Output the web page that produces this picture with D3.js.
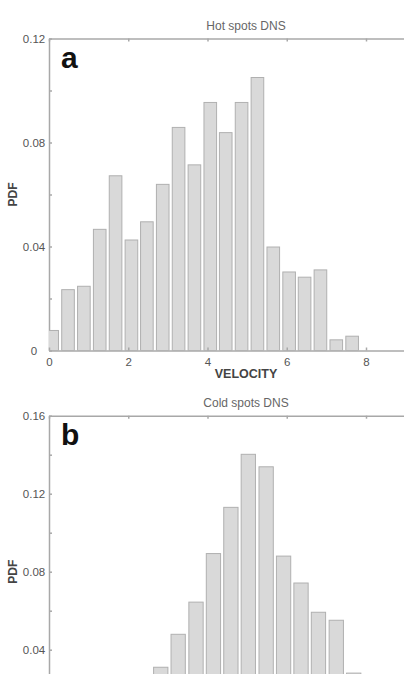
<!DOCTYPE html>
<html>
<head>
<meta charset="utf-8">
<script src="https://cdn.jsdelivr.net/npm/d3@7"></script>
<style>
  html, body { margin: 0; padding: 0; background: #fff; overflow: hidden; }
  svg { display: block; font-family: "Liberation Sans", Arial, sans-serif; }
  .axis path, .axis line { stroke: #a8a8a8; stroke-width: 1.5; }
  .axis text { fill: #555; font-size: 11.5px; }
</style>
</head>
<body>
<div id="chart"></div>
<script>
// panel a : hot spots
var hotVelocity = [0.08, 0.48, 0.88, 1.28, 1.68, 2.08, 2.47, 2.87, 3.27, 3.67,
                   4.07, 4.46, 4.86, 5.26, 5.66, 6.06, 6.45, 6.85, 7.25, 7.65];
var hotPdf = [0.0077, 0.0234, 0.0247, 0.0466, 0.0672, 0.0425, 0.0495, 0.0639, 0.0858, 0.0714,
              0.0954, 0.0838, 0.0954, 0.1050, 0.0398, 0.0302, 0.0282, 0.0310, 0.0041, 0.0055];

// panel b : cold spots (lower bins fall below the visible area)
var coldVelocity = [2.82, 3.26, 3.71, 4.15, 4.59, 5.03, 5.48, 5.92, 6.36, 6.80, 7.25, 7.69];
var coldPdf = [0.031, 0.0479, 0.0644, 0.0893, 0.113, 0.1402, 0.1338, 0.088, 0.0742, 0.0592, 0.0551, 0.028];

var xTicks = [0, 2, 4, 6, 8];
var hotYTicks = [0, 0.02, 0.04, 0.06, 0.08, 0.10, 0.12];
var coldYTicks = [0, 0.02, 0.04, 0.06, 0.08, 0.10, 0.12, 0.14, 0.16];

var W = 404, H = 674;
var svg = d3.select('#chart').append('svg')
    .attr('width', W).attr('height', H);

function drawPanel(opts) {
  var left = 49, top = opts.top, h = 312;
  var x = d3.scaleLinear().domain([0, 9]).range([left, left + 9 * 39.625]);
  var y = d3.scaleLinear().domain([0, opts.ymax]).range([top + h, top]);
  var g = svg.append('g');
  var bottomVisible = top + h + 30 < H;   // panel b is cut by the frame

  var clipId = 'clip-' + opts.letter;
  g.append('clipPath').attr('id', clipId)
    .append('rect')
      .attr('x', x(0)).attr('y', top)
      .attr('width', x(9) - x(0)).attr('height', h);

  // top axis, ticks pointing inward
  g.append('g').attr('class', 'axis')
    .attr('transform', 'translate(0,' + top + ')')
    .call(d3.axisTop(x).tickValues(xTicks).tickSize(-3).tickSizeOuter(0).tickFormat(''));

  // left axis
  var yAxis = g.append('g').attr('class', 'axis')
    .attr('transform', 'translate(' + left + ',0)')
    .call(d3.axisLeft(y).tickValues(opts.yTicks).tickSize(-3).tickSizeOuter(0)
      .tickFormat(function (d, i) {
        if (i % 2) return '';
        if (y(d) > H - 6) return '';
        return d === 0 ? '0' : d.toFixed(2);
      }));
  yAxis.selectAll('text').attr('x', -15).attr('text-anchor', 'middle');

  // bars
  var bw = opts.binWidth * opts.fill;
  g.append('g').attr('clip-path', 'url(#' + clipId + ')')
    .selectAll('rect')
    .data(opts.pdf).enter()
    .append('rect')
      .attr('x', function (d, i) { return x(opts.velocity[i] - bw / 2); })
      .attr('width', x(bw) - x(0))
      .attr('y', function (d) { return y(d); })
      .attr('height', function (d) { return y(0) - y(d); })
      .attr('fill', '#d9d9d9')
      .attr('stroke', '#b0b0b0')
      .attr('stroke-width', 1);

  // bottom axis
  var xAxis = g.append('g').attr('class', 'axis')
    .attr('transform', 'translate(0,' + (top + h) + ')')
    .call(d3.axisBottom(x).tickValues(xTicks).tickSize(-3).tickSizeOuter(0)
      .tickFormat(bottomVisible ? null : ''));
  xAxis.selectAll('text').attr('y', 7);
  xAxis.selectAll('.tick line').lower();

  g.append('text')
    .attr('x', 246).attr('y', top - 9)
    .attr('text-anchor', 'middle')
    .attr('fill', '#666').attr('font-size', 12)
    .text(opts.title);

  g.append('text')
    .attr('x', left + 12).attr('y', top + 29)
    .attr('font-size', 30).attr('font-weight', 'bold').attr('fill', '#111')
    .text(opts.letter);

  g.append('text')
    .attr('transform', 'translate(17,' + (top + h / 2) + ') rotate(-90)')
    .attr('text-anchor', 'middle')
    .attr('fill', '#444').attr('font-size', 12).attr('font-weight', 'bold')
    .text('PDF');

  if (bottomVisible) {
    g.append('text')
      .attr('x', 246).attr('y', top + h + 27.5)
      .attr('text-anchor', 'middle')
      .attr('fill', '#444').attr('font-size', 12.5).attr('font-weight', 'bold')
      .text('VELOCITY');
  }
}

drawPanel({ top: 38.5, ymax: 0.12, yTicks: hotYTicks, velocity: hotVelocity, pdf: hotPdf,
            binWidth: 0.398, fill: 0.8, title: 'Hot spots DNS', letter: 'a' });
drawPanel({ top: 415.7, ymax: 0.16, yTicks: coldYTicks, velocity: coldVelocity, pdf: coldPdf,
            binWidth: 0.4425, fill: 0.815, title: 'Cold spots DNS', letter: 'b' });
</script>
</body>
</html>
